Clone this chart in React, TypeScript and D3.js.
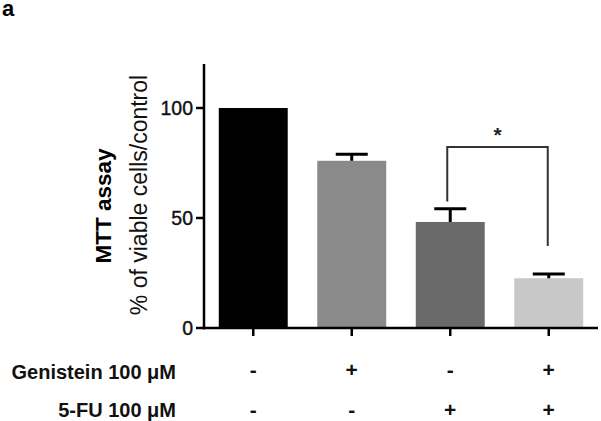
import React from "react";
import * as d3 from "d3";

const categories = ["Control", "Genistein", "5-FU", "Genistein+5-FU"];
const means = [100, 76, 48.2, 22.6];
const sems = [0, 3, 6, 2];
const barColors = ["#000000", "#8a8a8a", "#6a6a6a", "#c8c8c8"];
const genisteinRow = ["-", "+", "-", "+"];
const fuRow = ["-", "-", "+", "+"];
const yTicks = [0, 50, 100];
const bracketTop = 82.3;
const bracketLeftEnd = 57.5;
const bracketRightEnd = 37.3;

const FONT = "'Liberation Sans', Arial, Helvetica, sans-serif";

export default function App() {
  const W = 601;
  const H = 421;
  const x = d3
    .scaleBand<string>()
    .domain(categories)
    .range([204, 598])
    .paddingInner(0.3)
    .paddingOuter(0.15);
  const y = d3.scaleLinear().domain([0, 120]).range([328, 64]);
  const bw = x.bandwidth();
  const cx = (c: string) => (x(c) as number) + bw / 2;
  const capW = 32;

  return (
    <svg
      width={W}
      height={H}
      style={{ position: "absolute", left: 0, top: 0, background: "#fff" }}
      fontFamily={FONT}
    >
      <rect x={0} y={0} width={W} height={H} fill="#fff" />
      <text x={2} y={16} fontSize={22} fontWeight="bold" fill="#000">
        a
      </text>

      {/* bars */}
      {categories.map((c, i) => (
        <rect
          key={c}
          x={x(c)}
          y={y(means[i])}
          width={bw}
          height={y(0) - y(means[i])}
          fill={barColors[i]}
        />
      ))}

      {/* error bars */}
      {categories.map((c, i) =>
        sems[i] > 0 ? (
          <g key={"e" + c} stroke="#000" strokeWidth={3}>
            <line x1={cx(c)} x2={cx(c)} y1={y(means[i])} y2={y(means[i] + sems[i])} />
            <line
              x1={cx(c) - capW / 2}
              x2={cx(c) + capW / 2}
              y1={y(means[i] + sems[i])}
              y2={y(means[i] + sems[i])}
            />
          </g>
        ) : null
      )}

      {/* significance bracket */}
      <path
        d={`M${cx(categories[2]) - 3},${y(bracketLeftEnd)} V${y(bracketTop)} H${cx(categories[3]) - 1} V${y(bracketRightEnd)}`}
        fill="none"
        stroke="#333"
        strokeWidth={2}
      />
      <text
        x={(cx(categories[2]) + cx(categories[3])) / 2 - 2}
        y={y(bracketTop) - 5}
        fontSize={21}
        fontWeight="bold"
        textAnchor="middle"
        fill="#222"
      >
        *
      </text>

      {/* axes */}
      <line x1={204} x2={204} y1={y(120)} y2={y(0) + 1.25} stroke="#000" strokeWidth={2.5} />
      <line x1={202.75} x2={598} y1={y(0)} y2={y(0)} stroke="#000" strokeWidth={2.5} />
      {yTicks.map((t) => (
        <g key={"yt" + t}>
          <line x1={196} x2={204} y1={y(t)} y2={y(t)} stroke="#000" strokeWidth={2.5} />
          <text
            x={193}
            y={y(t) + 7}
            fontSize={19.5}
            textAnchor="end"
            fill="#111"
            stroke="#111"
            strokeWidth={0.4}
          >
            {t}
          </text>
        </g>
      ))}
      {categories.map((c) => (
        <line
          key={"xt" + c}
          x1={cx(c)}
          x2={cx(c)}
          y1={y(0)}
          y2={y(0) + 8}
          stroke="#000"
          strokeWidth={2.5}
        />
      ))}

      {/* y titles */}
      <text
        transform={`translate(111,206) rotate(-90)`}
        fontSize={22.5}
        fontWeight="bold"
        textAnchor="middle"
        fill="#000"
      >
        MTT assay
      </text>
      <text
        transform={`translate(147,195) rotate(-90)`}
        fontSize={23}
        textAnchor="middle"
        fill="#111"
      >
        % of viable cells/control
      </text>

      {/* treatment table */}
      <text x={176} y={379} fontSize={20} fontWeight="bold" textAnchor="end" fill="#111">
        Genistein 100 μM
      </text>
      <text x={176} y={417} fontSize={20} fontWeight="bold" textAnchor="end" fill="#111">
        5-FU 100 μM
      </text>
      {categories.map((c, i) => (
        <g key={"row" + c}>
          <text x={cx(c)} y={377} fontSize={21} fontWeight="bold" textAnchor="middle" fill="#111">
            {genisteinRow[i]}
          </text>
          <text x={cx(c)} y={417} fontSize={21} fontWeight="bold" textAnchor="middle" fill="#111">
            {fuRow[i]}
          </text>
        </g>
      ))}
    </svg>
  );
}
